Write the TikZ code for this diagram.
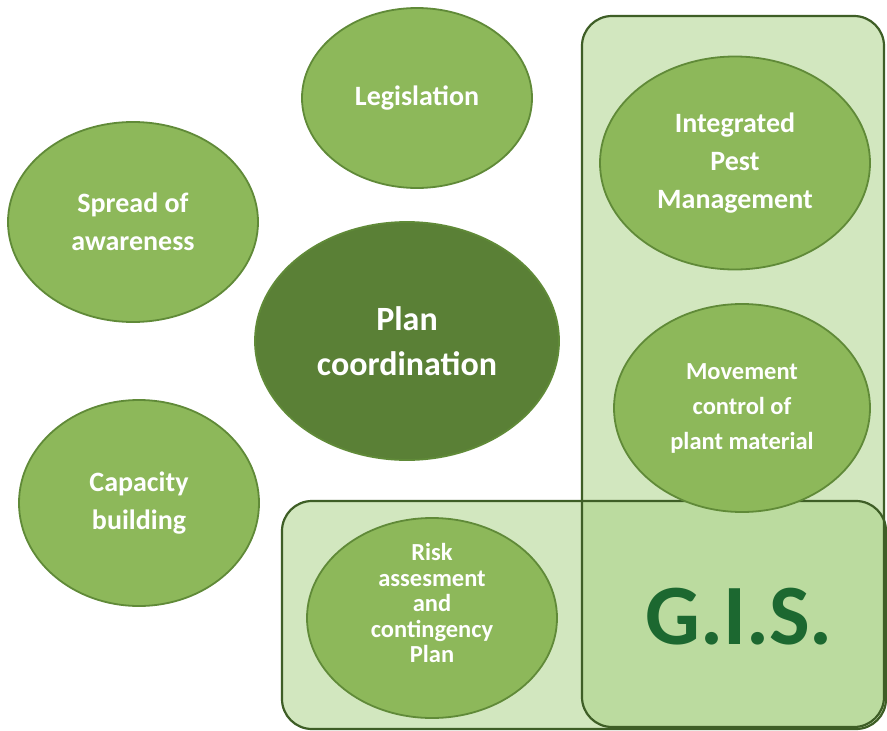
\documentclass[tikz,border=0pt]{standalone}
\usepackage{fontspec}
\setmainfont{Carlito}
\usetikzlibrary{shapes.geometric, positioning}
\definecolor{leafgreen}{RGB}{141, 184, 90}
\definecolor{leafedge}{RGB}{96, 138, 56}
\definecolor{olivegreen}{RGB}{90, 128, 54}
\definecolor{panelgreen}{RGB}{166, 208, 128}
\definecolor{paneledge}{RGB}{62, 94, 38}
\definecolor{gisgreen}{RGB}{28, 104, 48}

\begin{document}
\begin{tikzpicture}[x=1pt, y=-1pt,
  bubble/.style={ellipse, draw=leafedge, line width=1.8pt, fill=leafgreen, inner sep=0pt, align=center, text=white, font=\bfseries\fontsize{28}{38}\selectfont},
  panelfill/.style={fill=panelgreen, fill opacity=0.5, rounded corners=30pt},
  paneledge/.style={draw=paneledge, line width=2.2pt, rounded corners=30pt}
]
  \useasboundingbox (0,0) rectangle (887,731);
  \fill[white] (0,0) rectangle (887,731);
  % the two overlapping panels
  \path[panelfill] (582,16) rectangle (884,727);
  \path[panelfill] (282,501) rectangle (886,729);
  \draw[paneledge] (582,16) rectangle (884,727);
  \draw[paneledge] (282,501) rectangle (886,729);
  % left side
  \node[bubble, minimum width=230, minimum height=180] (legis) at (417,98) {Legislation};
  \node[bubble, minimum width=250, minimum height=200] (spread) at (133,222) {Spread of\\awareness};
  \node[bubble, minimum width=240, minimum height=206] (capacity) at (139,503) {Capacity\\building};
  \node[bubble, fill=olivegreen, minimum width=304, minimum height=238, font=\bfseries\fontsize{34}{45}\selectfont] (plan) at (407,341) {Plan\\coordination};
  % right side
  \node[bubble, minimum width=270, minimum height=213] (ipm) at (735,163) {Integrated\\Pest\\Management};
  \node[bubble, minimum width=256, minimum height=208, font=\bfseries\fontsize{24.5}{35}\selectfont] (movement) at (742,408) {Movement\\control of\\plant material};
  \node[bubble, minimum width=250, minimum height=200] (risk) at (432,618) {};
  \node[text=white, align=center, inner sep=0pt, font=\bfseries\fontsize{24.5}{25.5}\selectfont, yshift=15pt] (riskText) at (risk.center) {Risk\\assesment\\and\\contingency\\Plan};
  \node[text=gisgreen, inner sep=0pt, font=\bfseries\fontsize{86}{86}\selectfont] (gis) at (739,617) {G.I.S.};
\end{tikzpicture}
\end{document}
